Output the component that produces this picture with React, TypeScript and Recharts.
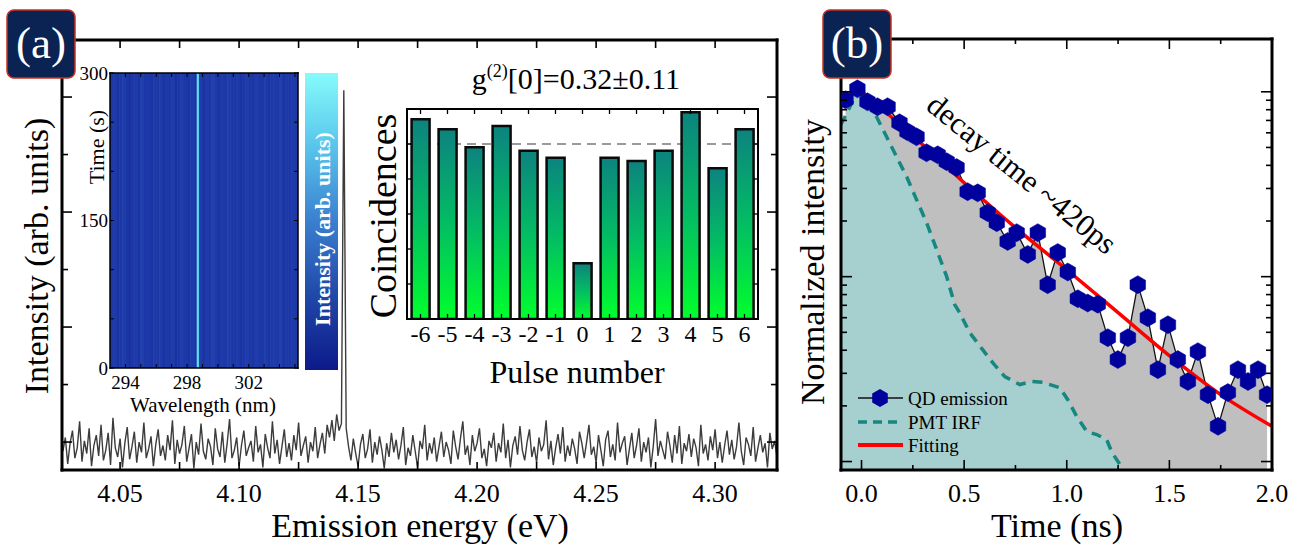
import React from 'react';
import { ComposedChart, LineChart, BarChart, Line, Area, Bar, XAxis, YAxis, ReferenceArea, ReferenceLine } from 'recharts';

const W = 1300;
const H = 545;
const FONT = "'Liberation Serif', 'Times New Roman', 'DejaVu Serif', serif";

// ---------------- Panel (a): emission spectrum ----------------
const energyStart = 4.026;
const energyStep = 0.001;
const spectrumCounts = [
  92, 104, 81, 99, 110, 86, 95, 118, 83, 101, 90, 112, 79, 97, 106, 88, 115, 84, 93, 108,
  80, 121, 95, 87, 103, 78, 99, 113, 85, 96, 109, 82, 100, 91, 117, 86, 94, 105, 79, 98,
  111, 88, 97, 84, 106, 93, 119, 81, 102, 90, 98, 114, 83, 95, 107, 77, 100, 89, 116, 92,
  85, 103, 96, 80, 112, 94, 87, 109, 82, 99, 120, 86, 93, 104, 79, 97, 110, 88, 95, 101,
  83, 114, 91, 98, 78, 107, 95, 86, 118, 90, 102, 81, 96, 111, 87, 99, 84, 106, 93, 117,
  88, 97, 105, 82, 100, 92, 113, 86, 98, 108, 90, 115, 104, 119, 101, 124, 110, 116, 406, 112,
  96, 84, 103, 90, 79, 98, 107, 86, 94, 111, 82, 100, 89, 105, 93, 77, 99, 87, 108, 91,
  102, 85, 97, 113, 80, 95, 88, 106, 92, 78, 101, 94, 115, 84, 99, 90, 104, 83, 96, 109,
  87, 100, 93, 81, 110, 96, 85, 103, 118, 89, 97, 80, 106, 92, 99, 112, 86, 94, 79, 101,
  95, 108, 83, 99, 91, 116, 86, 102, 78, 97, 105, 89, 114, 93, 84, 100, 111, 87, 96, 82,
  104, 92, 98, 119, 85, 101, 80, 95, 107, 90, 113, 83, 97, 88, 103, 94, 81, 109, 99, 86,
  100, 115, 89, 96, 82, 106, 93, 79, 102, 110, 87, 98, 84, 117, 91, 99, 105, 80, 94, 108,
  86, 97, 112, 83, 100, 91, 104, 78, 96, 120, 88, 101, 93, 85, 109, 97, 82, 106, 90, 114,
  81, 99, 92, 107, 87, 103, 95, 79, 115, 90, 98, 84, 105, 93, 111, 86, 100, 82, 97, 110,
  89, 102, 85, 96, 117, 92, 80, 104, 98, 88, 113, 83, 95, 106, 91, 99, 78, 108, 94, 101,
  87,
];
const spectrum = spectrumCounts.map((c, i) => ({ e: +(energyStart + i * energyStep).toFixed(3), c }));
const energyDomain = [4.0256, 4.326];
const energyTicks = [4.05, 4.075, 4.1, 4.125, 4.15, 4.175, 4.2, 4.225, 4.25, 4.275, 4.3];
const energyLabels = [4.05, 4.1, 4.15, 4.2, 4.25, 4.3];
const intensityDomain = [75.7, 449.6];
const intensityTicks = [100, 150, 200, 250, 300, 350, 400];
const intensityMajor = [100, 200, 300, 400];

// ---------------- Inset: time-resolved map ----------------
const wavelengthDomain = [293, 305.2];
const wavelengthTicks = [294, 295, 296, 297, 298, 299, 300, 301, 302, 303, 304, 305];
const wavelengthLabels = [294, 298, 302];
const timeDomain = [0, 300];
const timeTicks = [0, 50, 100, 150, 200, 250, 300];
const timeLabels = [0, 150, 300];
const stripeWidth = 0.2;
const stripeLevels = [
  3, 5, 2, 4, 6, 3, 1, 4, 5, 2, 7, 3, 4, 2, 5, 3, 6, 2, 4, 3,
  5, 1, 3, 6, 4, 2, 5, 3, 4, 6, 2, 5, 3, 7, 4, 2, 5, 3, 6, 4,
  3, 5, 2, 4, 6, 3, 2, 5, 4, 3, 6, 2, 4, 5, 3, 7, 2, 4, 3, 5, 4,
];
const brightLine = [
  { w: 298.7, t: 0 },
  { w: 298.7, t: 300 },
];
const colorbar = [{ k: 'scale', v: 1 }];

// ---------------- Inset: g2 histogram ----------------
const pulseNumbers = [-6, -5, -4, -3, -2, -1, 0, 1, 2, 3, 4, 5, 6];
const coincidences = [1.141, 1.084, 0.981, 1.103, 0.962, 0.922, 0.318, 0.922, 0.903, 0.962, 1.181, 0.861, 1.084];
const meanLevel = 1.0;
const pulses = pulseNumbers.map((p, i) => ({ p, c: coincidences[i] }));
const coincTicks = [0.2, 0.4, 0.6, 0.8, 1.0];

// ---------------- Panel (b): decay ----------------
const qdTimes = [
  -0.078, -0.02, 0.029, 0.078, 0.127, 0.185, 0.224, 0.268, 0.317, 0.371, 0.415, 0.463, 0.517,
  0.566, 0.615, 0.659, 0.712, 0.756, 0.81, 0.859, 0.907, 0.956, 1.005, 1.054, 1.102, 1.151,
  1.2, 1.249, 1.298, 1.346, 1.395, 1.444, 1.493, 1.541, 1.59, 1.639, 1.688, 1.737, 1.785,
  1.834, 1.883, 1.932, 1.976,
];
const qdValues = [
  0.905, 1.038, 0.883, 0.83, 0.83, 0.68, 0.608, 0.571, 0.468, 0.456, 0.419, 0.389, 0.288,
  0.284, 0.222, 0.196, 0.155, 0.173, 0.132, 0.173, 0.0905, 0.135, 0.106, 0.076, 0.072, 0.071,
  0.0468, 0.0356, 0.0468, 0.0905, 0.06, 0.0314, 0.055, 0.0356, 0.0271, 0.0393, 0.023, 0.0155,
  0.0236, 0.0314, 0.0271, 0.0314, 0.023,
];
const irfTimes = [
  -0.102, -0.083, -0.02, 0.039, 0.073, 0.122, 0.171, 0.22, 0.268, 0.317, 0.366, 0.415, 0.454,
  0.478, 0.527, 0.59, 0.639, 0.698, 0.771, 0.829, 0.883, 0.966, 1.005, 1.049, 1.098, 1.146,
  1.195, 1.22, 1.259,
];
const irfValues = [
  0.663, 0.724, 1.0, 0.872, 0.732, 0.571, 0.445, 0.347, 0.261, 0.196, 0.14, 0.1, 0.0706,
  0.0639, 0.0498, 0.0403, 0.0343, 0.0288, 0.0261, 0.0271, 0.0268, 0.0251, 0.0216, 0.0175,
  0.0145, 0.014, 0.0131, 0.0112, 0.00964,
];
const fitTimes = [-0.02, 0.25, 0.5, 0.75, 1.0, 1.25, 1.5, 1.75, 2.0];
const fitValues = [1.05, 0.578, 0.322, 0.184, 0.109, 0.0639, 0.0374, 0.023, 0.0155];
const qdData = qdTimes.map((t, i) => ({ t, v: qdValues[i] }));
const irfData = irfTimes.map((t, i) => ({ t, v: irfValues[i] }));
const fitData = fitTimes.map((t, i) => ({ t, v: fitValues[i] }));
const decayTimeDomain = [-0.1, 2.0];
const decayTimeTicks = [0, 0.25, 0.5, 0.75, 1, 1.25, 1.5, 1.75, 2];
const decayTimeLabels = [0, 0.5, 1, 1.5, 2];
const logDomain = [0.009, 1.93];
const logTicks = [0.01, 0.02, 0.03, 0.04, 0.05, 0.06, 0.07, 0.08, 0.09, 0.1, 0.2, 0.3, 0.4, 0.5, 0.6, 0.7, 0.8, 0.9, 1];
const logMajor = [0.01, 0.1, 1];

// ---------------- helpers ----------------
type Side = 'bottom' | 'top' | 'left' | 'right';
interface TickCfg {
  side: Side;
  major?: any[];
  labels?: any[];
  majorLen: number;
  minorLen?: number;
  gap?: number;
  fontSize?: number;
  fmt?: (v: any) => string;
  sw?: number;
}
const has = (arr: any[] | undefined, v: any) =>
  !!arr && arr.some((a) => (typeof a === 'number' && typeof v === 'number' ? Math.abs(a - v) < 1e-9 : a === v));

function tickFactory(c: TickCfg) {
  return (props: any) => {
    const { x, y, payload } = props;
    const v = payload ? payload.value : undefined;
    const len = !c.major || has(c.major, v) ? c.majorLen : c.minorLen ?? c.majorLen;
    let x2 = x;
    let y2 = y;
    if (c.side === 'bottom') y2 = y - len;
    else if (c.side === 'top') y2 = y + len;
    else if (c.side === 'left') x2 = x + len;
    else x2 = x - len;
    let label: any = null;
    if (c.labels && has(c.labels, v)) {
      const txt = c.fmt ? c.fmt(v) : String(v);
      const g = c.gap ?? 0;
      const common = { fontFamily: FONT, fontSize: c.fontSize ?? 20, fill: '#000' };
      if (c.side === 'bottom')
        label = (
          <text x={x} y={y + g} textAnchor="middle" dominantBaseline="central" {...common}>
            {txt}
          </text>
        );
      else if (c.side === 'left')
        label = (
          <text x={x - g} y={y} textAnchor="end" dominantBaseline="central" {...common}>
            {txt}
          </text>
        );
    }
    return (
      <g>
        {len > 0 && <line x1={x} y1={y} x2={x2} y2={y2} stroke="#000" strokeWidth={c.sw ?? 1.6} />}
        {label}
      </g>
    );
  };
}

const frameLine = (w: number) => ({ stroke: '#000', strokeWidth: w, strokeLinecap: 'square' as const });
const axisBase = { tickSize: 0, tickMargin: 0, tickLine: false, interval: 0 as const, allowDataOverflow: true };

const layer: React.CSSProperties = { position: 'absolute', left: 0, top: 0 };

function hexPoints(cx: number, cy: number, r: number) {
  return [0, 1, 2, 3, 4, 5]
    .map((k) => {
      const a = (Math.PI / 180) * (60 * k - 90);
      return `${(cx + r * Math.cos(a)).toFixed(2)},${(cy + r * Math.sin(a)).toFixed(2)}`;
    })
    .join(' ');
}
const HEX_COLOR = '#00009c';
const HexDot = (p: any) => {
  const { cx, cy, index } = p;
  if (cx == null || cy == null) return <g key={`h${index}`} />;
  return <polygon key={`h${index}`} points={hexPoints(cx, cy, 9)} fill={HEX_COLOR} stroke={HEX_COLOR} strokeWidth={0.5} />;
};

function stripeColor(level: number) {
  const a = [24, 48, 160];
  const b = [36, 68, 178];
  const f = level / 9;
  const c = a.map((v, i) => Math.round(v + (b[i] - v) * f));
  return `rgb(${c[0]},${c[1]},${c[2]})`;
}

// ---------------- charts ----------------
function SpectrumChart() {
  return (
    <div style={layer}>
      <LineChart width={W} height={H} data={spectrum} margin={{ top: 39, left: 61, right: 522, bottom: 74 }}>
        <XAxis
          {...axisBase}
          dataKey="e"
          type="number"
          domain={energyDomain}
          ticks={energyTicks}
          height={1}
          axisLine={frameLine(3)}
          tick={tickFactory({ side: 'bottom', majorLen: 8, labels: energyLabels, gap: 23, fontSize: 26, fmt: (v) => v.toFixed(2) })}
        />
        <XAxis
          {...axisBase}
          xAxisId="top"
          orientation="top"
          dataKey="e"
          type="number"
          domain={energyDomain}
          ticks={energyTicks}
          height={1}
          axisLine={frameLine(3)}
          tick={tickFactory({ side: 'top', majorLen: 8 })}
        />
        <YAxis
          {...axisBase}
          type="number"
          domain={intensityDomain}
          ticks={intensityTicks}
          width={1}
          axisLine={frameLine(3)}
          tick={tickFactory({ side: 'left', major: intensityMajor, majorLen: 10, minorLen: 6 })}
        />
        <YAxis
          {...axisBase}
          yAxisId="right"
          orientation="right"
          type="number"
          domain={intensityDomain}
          ticks={intensityTicks}
          width={1}
          axisLine={frameLine(3)}
          tick={tickFactory({ side: 'right', major: intensityMajor, majorLen: 10, minorLen: 6 })}
        />
        <Line dataKey="c" type="linear" stroke="#3c3c3c" strokeWidth={1.4} dot={false} isAnimationActive={false} />
      </LineChart>
    </div>
  );
}

function MapChart() {
  return (
    <div style={layer}>
      <ComposedChart width={W} height={H} data={brightLine} margin={{ top: 72, left: 109, right: 1001, bottom: 176 }}>
        {stripeLevels.map((lv, i) => (
          <ReferenceArea
            key={i}
            x1={wavelengthDomain[0] + i * stripeWidth}
            x2={wavelengthDomain[0] + (i + 1) * stripeWidth}
            y1={timeDomain[0]}
            y2={timeDomain[1]}
            fill={stripeColor(lv)}
            fillOpacity={1}
            stroke={stripeColor(lv)}
            strokeWidth={0.8}
            ifOverflow="hidden"
          />
        ))}
        <XAxis
          {...axisBase}
          dataKey="w"
          type="number"
          domain={wavelengthDomain}
          ticks={wavelengthTicks}
          height={1}
          axisLine={frameLine(1.5)}
          tick={tickFactory({ side: 'bottom', majorLen: 4, labels: wavelengthLabels, gap: 14, fontSize: 19, sw: 1 })}
        />
        <XAxis
          {...axisBase}
          xAxisId="top"
          orientation="top"
          dataKey="w"
          type="number"
          domain={wavelengthDomain}
          ticks={wavelengthTicks}
          height={1}
          axisLine={frameLine(1.5)}
          tick={tickFactory({ side: 'top', majorLen: 4, sw: 1 })}
        />
        <YAxis
          {...axisBase}
          type="number"
          domain={timeDomain}
          ticks={timeTicks}
          width={1}
          axisLine={frameLine(1.5)}
          tick={tickFactory({ side: 'left', majorLen: 4, labels: timeLabels, gap: 2, fontSize: 19, sw: 1 })}
        />
        <YAxis
          {...axisBase}
          yAxisId="right"
          orientation="right"
          type="number"
          domain={timeDomain}
          ticks={timeTicks}
          width={1}
          axisLine={frameLine(1.5)}
          tick={tickFactory({ side: 'right', majorLen: 4, sw: 1 })}
        />
        <Line dataKey="t" type="linear" stroke="#5fdcf2" strokeWidth={2.2} dot={false} isAnimationActive={false} />
      </ComposedChart>
    </div>
  );
}

function ColorbarChart() {
  return (
    <div style={layer}>
      <BarChart width={W} height={H} data={colorbar} margin={{ top: 73, left: 305, right: 962, bottom: 175 }} barCategoryGap={0}>
        <defs>
          <linearGradient id="cbGrad" x1="0" y1="0" x2="0" y2="1">
            <stop offset="0%" stopColor="#86fbfb" />
            <stop offset="25%" stopColor="#58c4ec" />
            <stop offset="50%" stopColor="#3a7fcf" />
            <stop offset="75%" stopColor="#2048a8" />
            <stop offset="100%" stopColor="#0c1a8a" />
          </linearGradient>
        </defs>
        <XAxis dataKey="k" hide />
        <YAxis domain={[0, 1]} hide />
        <Bar dataKey="v" fill="url(#cbGrad)" isAnimationActive={false} />
      </BarChart>
    </div>
  );
}

function HistogramBackground() {
  return (
    <div style={layer}>
      <BarChart width={W} height={H} data={pulses} margin={{ top: 109, left: 407, right: 542, bottom: 226 }}>
        <XAxis dataKey="p" hide />
        <YAxis type="number" domain={[0, 1.2]} hide allowDataOverflow />
        <ReferenceLine y={meanLevel} stroke="#9a9a9a" strokeWidth={1.8} strokeDasharray="9 6" />
      </BarChart>
    </div>
  );
}

function HistogramChart() {
  return (
    <div style={layer}>
      <BarChart width={W} height={H} data={pulses} margin={{ top: 108, left: 406, right: 541, bottom: 225 }} barCategoryGap="17%">
        <defs>
          <linearGradient id="barGrad" x1="0" y1="0" x2="0" y2="1">
            <stop offset="0%" stopColor="#0c837f" />
            <stop offset="50%" stopColor="#03bd63" />
            <stop offset="100%" stopColor="#00ff2c" />
          </linearGradient>
        </defs>
        <XAxis
          {...axisBase}
          dataKey="p"
          height={1}
          axisLine={frameLine(2)}
          tick={tickFactory({ side: 'bottom', majorLen: 5, labels: pulseNumbers, gap: 15, fontSize: 24, sw: 1.3 })}
        />
        <XAxis
          {...axisBase}
          xAxisId="top"
          orientation="top"
          dataKey="p"
          height={1}
          axisLine={frameLine(2)}
          tick={tickFactory({ side: 'top', majorLen: 5, sw: 1.3 })}
        />
        <YAxis {...axisBase} type="number" domain={[0, 1.2]} ticks={coincTicks} width={1} axisLine={frameLine(2)} tick={tickFactory({ side: 'left', majorLen: 4, sw: 1.3 })} />
        <YAxis
          {...axisBase}
          yAxisId="right"
          orientation="right"
          type="number"
          domain={[0, 1.2]}
          ticks={coincTicks}
          width={1}
          axisLine={frameLine(2)}
          tick={tickFactory({ side: 'right', majorLen: 4, sw: 1.3 })}
        />
        <Bar dataKey="c" fill="url(#barGrad)" stroke="#0a0a0a" strokeWidth={2.5} isAnimationActive={false} />
      </BarChart>
    </div>
  );
}

function DecayChart() {
  return (
    <div style={layer}>
      <ComposedChart width={W} height={H} margin={{ top: 38, left: 840, right: 27, bottom: 74 }}>
        <XAxis
          {...axisBase}
          dataKey="t"
          type="number"
          domain={decayTimeDomain}
          ticks={decayTimeTicks}
          height={1}
          axisLine={frameLine(3)}
          tick={tickFactory({ side: 'bottom', major: decayTimeLabels, majorLen: 10, minorLen: 5, labels: decayTimeLabels, gap: 23, fontSize: 26, fmt: (v) => v.toFixed(1) })}
        />
        <XAxis
          {...axisBase}
          xAxisId="top"
          orientation="top"
          dataKey="t"
          type="number"
          domain={decayTimeDomain}
          ticks={decayTimeTicks}
          height={1}
          axisLine={frameLine(3)}
          tick={tickFactory({ side: 'top', major: decayTimeLabels, majorLen: 10, minorLen: 5 })}
        />
        <YAxis
          {...axisBase}
          type="number"
          scale="log"
          domain={logDomain}
          ticks={logTicks}
          width={1}
          axisLine={frameLine(3)}
          tick={tickFactory({ side: 'left', major: logMajor, majorLen: 11, minorLen: 6 })}
        />
        <YAxis
          {...axisBase}
          yAxisId="right"
          orientation="right"
          type="number"
          scale="log"
          domain={logDomain}
          ticks={logTicks}
          width={1}
          axisLine={frameLine(3)}
          tick={tickFactory({ side: 'right', major: logMajor, majorLen: 11, minorLen: 6 })}
        />
        <Area data={qdData} dataKey="v" type="linear" fill="#bfbfbf" fillOpacity={1} stroke="none" baseValue={logDomain[0]} isAnimationActive={false} />
        <Area data={irfData} dataKey="v" type="linear" fill="#a6cfcf" fillOpacity={1} stroke="none" baseValue={logDomain[0]} isAnimationActive={false} />
        <Line data={irfData} dataKey="v" type="linear" stroke="#17877f" strokeWidth={3.5} strokeDasharray="10 7" dot={false} isAnimationActive={false} />
        <Line data={qdData} dataKey="v" type="linear" stroke="#111" strokeWidth={1.3} dot={HexDot} isAnimationActive={false} />
        <Line data={fitData} dataKey="v" type="monotone" stroke="#ff0000" strokeWidth={3.5} dot={false} isAnimationActive={false} />
      </ComposedChart>
    </div>
  );
}

function PanelTag({ x, y, label }: { x: number; y: number; label: string }) {
  return (
    <g>
      <rect x={x} y={y} width={68} height={68} rx={7} ry={7} fill="#0b2352" stroke="#c8321e" strokeWidth={1.5} />
      <text x={x + 34} y={y + 33} textAnchor="middle" dominantBaseline="central" fontSize={45} fill="#fff" fontFamily={FONT}>
        {label}
      </text>
    </g>
  );
}

const legendItems = [
  { name: 'QD emission', kind: 'hex', y: 398 },
  { name: 'PMT IRF', kind: 'dash', y: 422 },
  { name: 'Fitting', kind: 'fit', y: 445 },
];

function Overlay() {
  return (
    <svg width={W} height={H} style={{ ...layer, pointerEvents: 'none' }} fontFamily={FONT}>
      <PanelTag x={7} y={10} label="(a)" />
      <PanelTag x={823} y={10} label="(b)" />
      <text transform="translate(36,256) rotate(-90)" textAnchor="middle" dominantBaseline="central" fontSize={34}>
        Intensity (arb. units)
      </text>
      <text x={420} y={525} textAnchor="middle" dominantBaseline="central" fontSize={34}>
        Emission energy (eV)
      </text>
      <text transform="translate(96,147) rotate(-90)" textAnchor="middle" dominantBaseline="central" fontSize={22}>
        Time (s)
      </text>
      <text x={203} y={405} textAnchor="middle" dominantBaseline="central" fontSize={21}>
        Wavelength (nm)
      </text>
      <text transform="translate(322,229) rotate(-90)" textAnchor="middle" dominantBaseline="central" fontSize={22} fontWeight="bold" fill="#fff">
        Intensity (arb. units)
      </text>
      <text transform="translate(383,216) rotate(-90)" textAnchor="middle" dominantBaseline="central" fontSize={38}>
        Coincidences
      </text>
      <text x={577} y={372} textAnchor="middle" dominantBaseline="central" fontSize={32}>
        Pulse number
      </text>
      <text x={576} y={89} textAnchor="middle" fontSize={30}>
        g<tspan dy={-12} fontSize={18}>(2)</tspan>
        <tspan dy={12}>[0]=0.32±0.11</tspan>
      </text>
      <text transform="translate(812,262) rotate(-90)" textAnchor="middle" dominantBaseline="central" fontSize={34}>
        Normalized intensity
      </text>
      <text x={1057} y={525} textAnchor="middle" dominantBaseline="central" fontSize={34}>
        Time (ns)
      </text>
      <text transform="translate(1022,174) rotate(39)" textAnchor="middle" dominantBaseline="central" fontSize={31}>
        decay time ~420ps
      </text>
      {legendItems.map((it) => (
        <g key={it.name}>
          {it.kind === 'hex' && (
            <>
              <line x1={858} y1={it.y} x2={903} y2={it.y} stroke="#111" strokeWidth={1.5} />
              <polygon points={hexPoints(880, it.y, 9)} fill={HEX_COLOR} />
            </>
          )}
          {it.kind === 'dash' && <line x1={858} y1={it.y} x2={903} y2={it.y} stroke="#17877f" strokeWidth={3.5} strokeDasharray="9 6" />}
          {it.kind === 'fit' && <line x1={858} y1={it.y} x2={903} y2={it.y} stroke="#ff0000" strokeWidth={4} />}
          <text x={908} y={it.y} dominantBaseline="central" fontSize={19}>
            {it.name}
          </text>
        </g>
      ))}
    </svg>
  );
}

export default function App() {
  return (
    <div style={{ position: 'absolute', left: 0, top: 0, width: W, height: H, background: '#fff', overflow: 'hidden', fontFamily: FONT }}>
      <SpectrumChart />
      <MapChart />
      <ColorbarChart />
      <HistogramBackground />
      <HistogramChart />
      <DecayChart />
      <Overlay />
    </div>
  );
}
